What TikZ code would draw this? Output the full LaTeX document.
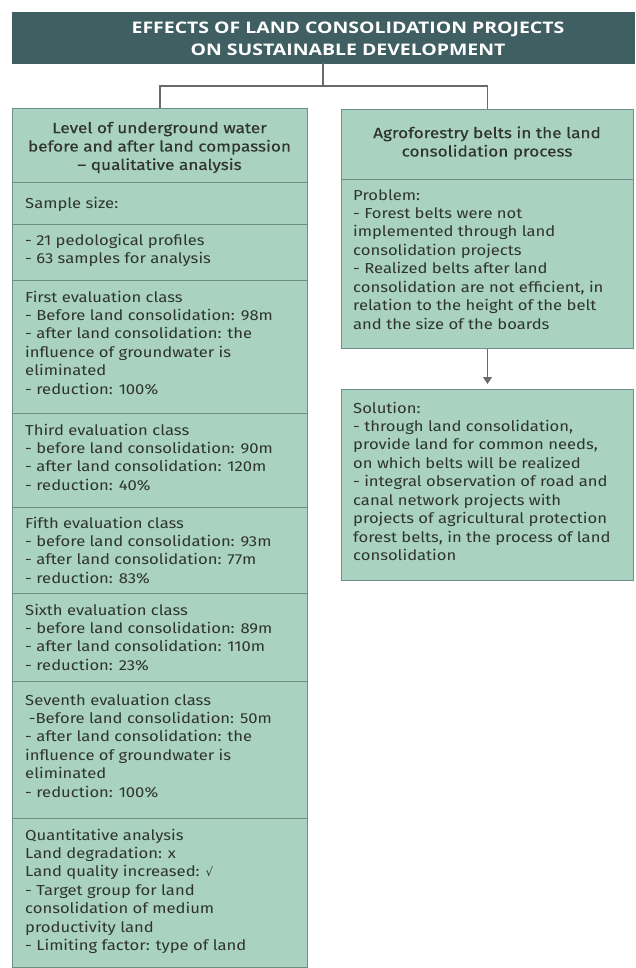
\documentclass[tikz,border=0pt]{standalone}
\usepackage{fontspec}
\setmainfont{Fira Sans}[FakeStretch=1.15]
\newfontfamily\djv{DejaVu Sans}
\newfontfamily\medfont{Fira Sans}[FakeStretch=1.15,FakeBold=0.3]
\newfontfamily\titlefont{Open Sans}[FakeStretch=1.22]
\usetikzlibrary{arrows.meta}
\definecolor{boxfill}{HTML}{A9D2C1}
\definecolor{boxdraw}{HTML}{6E8F87}
\definecolor{titlefill}{HTML}{3F5F62}
\definecolor{txt}{HTML}{2F3332}
\definecolor{connc}{HTML}{6A6A6A}
\begin{document}
\begin{tikzpicture}[x=1bp,y=-1bp,
  box/.style={draw=boxdraw, fill=boxfill, line width=1bp, inner sep=0pt, rectangle, anchor=north west},
  body/.style={anchor=north west, inner sep=0pt, align=left, text=txt, font=\fontsize{14.5}{18.5}\selectfont},
  head/.style={anchor=north, inner sep=0pt, align=center, text=txt, font=\medfont\fontsize{15}{18.5}\selectfont},
  connector/.style={draw=connc, line width=1.2bp}]
\useasboundingbox[fill=white] (0,0) rectangle (636,968);

% title
\node[anchor=north west, fill=titlefill, draw=titlefill, inner sep=0pt, minimum width=622bp, minimum height=51bp] (title) at (12,12) {};
\node[anchor=north, inner sep=0pt, align=center, text=white, font=\titlefont\bfseries\fontsize{16}{22}\selectfont] (titletext) at (348,18)
  {\strut EFFECTS OF LAND CONSOLIDATION PROJECTS\\ON SUSTAINABLE DEVELOPMENT};

% left column boxes
\node[box, minimum width=295bp, minimum height=74bp] (L0) at (12,108) {};
\node[box, minimum width=295bp, minimum height=42bp] (L1) at (12,182) {};
\node[box, minimum width=295bp, minimum height=56bp] (L2) at (12,224) {};
\node[box, minimum width=295bp, minimum height=133bp] (L3) at (12,280) {};
\node[box, minimum width=295bp, minimum height=94bp] (L4) at (12,413) {};
\node[box, minimum width=295bp, minimum height=86bp] (L5) at (12,507) {};
\node[box, minimum width=295bp, minimum height=88bp] (L6) at (12,593) {};
\node[box, minimum width=295bp, minimum height=137bp] (L7) at (12,681) {};
\node[box, minimum width=295bp, minimum height=149bp] (L8) at (12,818) {};

% right column boxes
\node[box, minimum width=292bp, minimum height=70bp] (R0) at (341,109) {};
\node[box, minimum width=292bp, minimum height=169bp] (R1) at (341,179) {};
\node[box, minimum width=292bp, minimum height=191bp] (R2) at (341,389) {};

% headers
\node[head] (L0t) at (159.5,120) {\strut Level of underground water\\before and after land compassion\\– qualitative analysis};
\node[head] (R0t) at (487,125) {\strut Agroforestry belts in the land\\consolidation process};

% left texts
\node[body] (L1t) at (25,195) {\strut Sample size:};
\node[body] (L2t) at (25,232) {\strut - 21 pedological profiles\\- 63 samples for analysis};
\node[body] (L3t) at (25,289) {\strut First evaluation class\\- Before land consolidation: 98m\\- after land consolidation: the\\influence of groundwater is\\eliminated\\- reduction: 100\%};
\node[body] (L4t) at (25,422) {\strut Third evaluation class\\- before land consolidation: 90m\\- after land consolidation: 120m\\- reduction: 40\%};
\node[body] (L5t) at (25,515) {\strut Fifth evaluation class\\- before land consolidation: 93m\\- after land consolidation: 77m\\- reduction: 83\%};
\node[body] (L6t) at (25,602) {\strut Sixth evaluation class\\- before land consolidation: 89m\\- after land consolidation: 110m\\- reduction: 23\%};
\node[body] (L7t) at (25,692) {\strut Seventh evaluation class\\\hspace*{0.25em}-Before land consolidation: 50m\\- after land consolidation: the\\influence of groundwater is\\eliminated\\- reduction: 100\%};
\node[body] (L8t) at (25,827) {\strut Quantitative analysis\\Land degradation: x\\Land quality increased: {\djv\fontsize{12}{18.5}\selectfont √}\\- Target group for land\\consolidation of medium\\productivity land\\- Limiting factor: type of land};

% right texts
\node[body] (R1t) at (353,187) {\strut Problem:\\- Forest belts were not\\implemented through land\\consolidation projects\\- Realized belts after land\\consolidation are not efficient, in\\relation to the height of the belt\\and the size of the boards};
\node[body] (R2t) at (353,400) {\strut Solution:\\- through land consolidation,\\provide land for common needs,\\on which belts will be realized\\- integral observation of road and\\canal network projects with\\projects of agricultural protection\\forest belts, in the process of land\\consolidation};

% connectors
\coordinate (split) at (323,86);
\draw[connector] (title.south -| split) -- (split);
\draw[connector] (L0.north) -- (L0.north |- split) -- (R0.north |- split) -- (R0.north);
\draw[connector, -{Triangle[width=9bp,length=7bp]}, fill=connc] (R1.south) -- ([yshift=5bp]R2.north);
\end{tikzpicture}
\end{document}
